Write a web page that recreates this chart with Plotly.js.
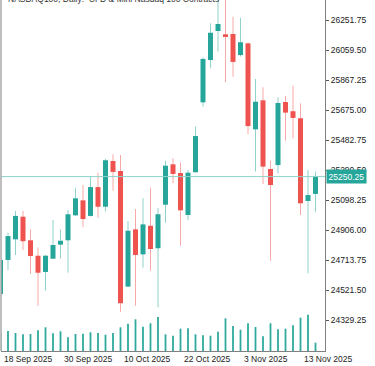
<!DOCTYPE html>
<html><head><meta charset="utf-8">
<script src="https://cdn.plot.ly/plotly-3.0.1.min.js"></script>
<style>html,body{margin:0;padding:0;background:#fff;overflow:hidden}#chart{width:375px;height:366px}</style>
</head><body><div id="chart"></div>
<script>
const dates = ['2025-09-18','2025-09-19','2025-09-22','2025-09-23','2025-09-24','2025-09-25','2025-09-26','2025-09-29','2025-09-30',
'2025-10-01','2025-10-02','2025-10-03','2025-10-06','2025-10-07','2025-10-08','2025-10-09','2025-10-10','2025-10-13','2025-10-14',
'2025-10-15','2025-10-16','2025-10-17','2025-10-20','2025-10-21','2025-10-22','2025-10-23','2025-10-24','2025-10-27','2025-10-28',
'2025-10-29','2025-10-30','2025-10-31','2025-11-03','2025-11-04','2025-11-05','2025-11-06','2025-11-07','2025-11-10','2025-11-11',
'2025-11-12','2025-11-13','2025-11-14','2025-11-17'];
const open  = [24498,24716,24848,24993,24842,24743,24639,24724,24814,24842,25002,25098,24998,25183,25057,25350,25286,24545,24912,24752,24935,24791,25070,25329,25273,25004,25278,25726,25997,26183,26162,26164,26029,26104,25553,25739,25299,25324,25728,25669,25624,25094,25139];
const high  = [24729,24891,25030,25030,24912,24795,24748,24972,24912,25036,25179,25196,25254,25275,25363,25393,25389,24966,25043,25111,25179,25051,25352,25367,25339,25292,25570,26015,26233,26405,26405,26275,26268,26110,25876,25822,25352,25758,25769,25833,25720,25292,25282];
const low   = [24485,24652,24748,24780,24626,24423,24519,24722,24724,24634,24998,24925,24994,24987,25028,25160,24384,24543,24423,24666,24647,24413,24955,25207,24807,24972,25276,25698,25944,26051,25854,25890,26019,25523,25282,25203,24711,25271,25480,25496,25004,24630,25025];
const close = [24716,24869,24998,24836,24741,24634,24743,24812,24839,25009,25111,24978,25183,25057,25355,25280,24438,24903,24748,24944,24786,25009,25320,25267,25034,25275,25510,26004,26172,26228,26145,25985,26111,25574,25730,25314,25196,25722,25660,25626,25079,25132,25250.25];
const volume = [18,20,18,16.7,17,20.7,23.7,17.7,19.7,13.7,17,17.3,18.7,18,16.3,18,23.7,27.3,31.7,24.3,27.7,34,16.7,15.3,22.3,22.7,16.7,15.7,15.3,19.3,32.7,25,21.3,27.7,24,14.7,27.7,21.7,22.3,25.7,33.3,36.3,8.3];
const priceTicks = [24329.25,24521.50,24713.75,24906.00,25098.25,25290.50,25482.75,25675.00,25867.25,26059.50,26251.75];
const labelDates = ['2025-09-18','2025-09-30','2025-10-10','2025-10-22','2025-11-03','2025-11-13'];
const labelTexts = ['18 Sep 2025','30 Sep 2025','10 Oct 2025','22 Oct 2025','3 Nov 2025','13 Nov 2025'];
const lastPrice = close[close.length-1];
const titleText = 'NASDAQ100, Daily:  CFD &amp; Mini Nasdaq 100 Contracts';

const UP='#26a69a', DN='#ef5350', UPW='#92d2cc', DNW='#f7a9a7';
const idx = dates.map((d,i)=>i);
const isUp = close.map((c,i)=>c>=open[i]);
const font = 'Liberation Sans, Arial, sans-serif';
const X0 = 0.0667, X1 = 43.267, PX = 7.5;

const traces = [
 {type:'bar', x:idx, base:low, y:high.map((h,i)=>h-low[i]), width:0.134,
  marker:{color:isUp.map(u=>u?UPW:DNW), line:{width:0}}, hoverinfo:'skip'},
 {type:'bar', x:idx, base:open.map((o,i)=>Math.min(o,close[i])), y:open.map((o,i)=>Math.abs(close[i]-o)), width:0.667,
  marker:{color:isUp.map(u=>u?UP:DN), line:{width:0}}, hoverinfo:'skip'},
 {type:'bar', x:idx, y:volume, yaxis:'y2', width:0.24,
  marker:{color:'#2fa99d', line:{width:0}}, hoverinfo:'skip'}
];

const annotations = labelDates.map((d,j)=>{
  const i = dates.indexOf(d), xa = Math.max(i, X0 + 0.01);
  return {x:xa, xref:'x', y:0, yref:'paper', xanchor:'left', yanchor:'top', xshift:0.5 - (xa - i)*PX + 1, yshift:-1,
    text:labelTexts[j], showarrow:false, font:{family:font,size:8.5,color:'#222'}};
});
annotations.push({x:1, xref:'paper', y:lastPrice, yref:'y', xanchor:'left', yanchor:'middle', xshift:1,
  text:lastPrice.toFixed(2), showarrow:false, bgcolor:UP, borderpad:1.5,
  font:{family:font,size:8.5,color:'#fff'}});
annotations.push({x:0, xref:'paper', y:1, yref:'paper', xanchor:'left', yanchor:'bottom', xshift:5, yshift:-6,
  text:titleText, showarrow:false, font:{family:font,size:8.5,color:'#333'}});

const layout = {
  width:375, height:366, margin:{l:1,r:50,t:0,b:15},
  paper_bgcolor:'#fff', plot_bgcolor:'#fff', showlegend:false, barmode:'overlay',
  xaxis:{type:'linear', range:[X0,X1], showgrid:false, zeroline:false, showticklabels:false,
    ticks:'', showline:true, linecolor:'#808080', linewidth:1, fixedrange:true},
  yaxis:{side:'right', range:[24132.5,26381.8], tickvals:priceTicks, ticktext:priceTicks.map(v=>v.toFixed(2)),
    showgrid:false, zeroline:false, ticks:'outside', ticklen:3, tickcolor:'#555', showline:true, linecolor:'#808080',
    tickfont:{family:font,size:8.5,color:'#222'}, fixedrange:true},
  yaxis2:{overlaying:'y', range:[0,351], visible:false, fixedrange:true},
  shapes:[
    {type:'line', xref:'paper', x0:0, x1:1, yref:'y', y0:lastPrice, y1:lastPrice, line:{color:'#8fd3c9', width:1}},
    {type:'line', xref:'paper', x0:0, x1:0, yref:'paper', y0:0, y1:1, line:{color:'#a8a8a8', width:1.5}}
  ],
  annotations:annotations
};
Plotly.newPlot('chart', traces, layout, {staticPlot:true, displayModeBar:false});
</script></body></html>
